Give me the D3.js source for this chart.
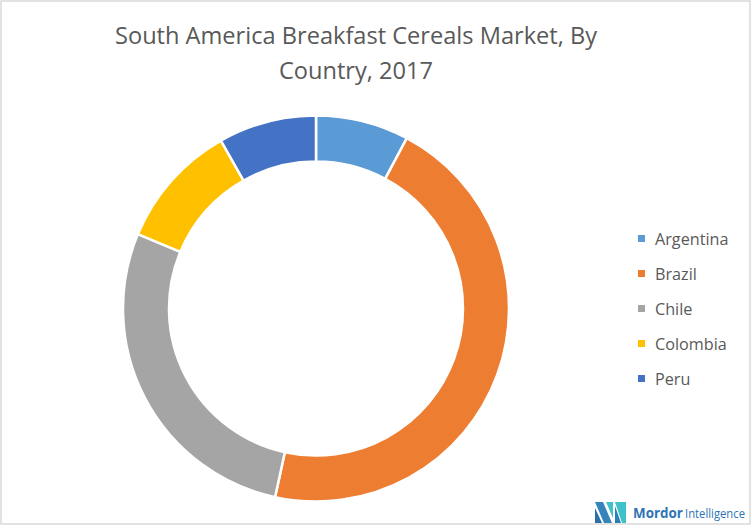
<!DOCTYPE html>
<html><head><meta charset="utf-8">
<script src="https://cdn.jsdelivr.net/npm/d3@7"></script>
<style>body{margin:0;background:#fff}svg{display:block}</style>
</head><body>
<svg id="c" width="752" height="528"></svg>
<script>
const categories = ["Argentina","Brazil","Chile","Colombia","Peru"];
const values = [7.8, 45.6, 27.9, 10.5, 8.2];
const colors = ["#5B9BD5","#ED7D31","#A5A5A5","#FFC000","#4472C4"];
const titleLines = ["South America Breakfast Cereals Market, By","Country, 2017"];

const svg = d3.select("#c");
svg.append("rect").attr("x",1).attr("y",1).attr("width",749).attr("height",523)
  .attr("fill","#fff").attr("stroke","#d9d9d9").attr("stroke-width",1.5);

const font = "'Open Sans', 'Noto Sans', sans-serif";
svg.append("g").selectAll("text").data(titleLines).join("text")
  .attr("x",356).attr("y",(d,i)=>44+i*35).attr("text-anchor","middle")
  .attr("font-family",font).attr("font-size",23.6).attr("fill","#595959").text(d=>d);

const cx = 316, cy = 308.5, R = 193, r = 147;
const pie = d3.pie().sort(null).value(d=>d);
const arc = d3.arc().innerRadius(r).outerRadius(R);
svg.append("g").attr("transform",`translate(${cx},${cy})`)
  .selectAll("path").data(pie(values)).join("path")
  .attr("d",arc).attr("fill",(d,i)=>colors[i])
  .attr("stroke","#fff").attr("stroke-width",2.5);

const y = d3.scalePoint().domain(categories).range([238.5,378.5]);
const lg = svg.append("g");
lg.selectAll("rect").data(categories).join("rect")
  .attr("x",638).attr("y",d=>y(d)-3.5).attr("width",7).attr("height",7)
  .attr("fill",(d,i)=>colors[i]);
lg.selectAll("text").data(categories).join("text")
  .attr("x",655).attr("y",d=>y(d)+6)
  .attr("font-family",font).attr("font-size",16.2).attr("fill","#595959").text(d=>d);

// logo
const logo = svg.append("g");
logo.append("path").attr("d","M595,502 L603,502 L612,523 L604,523 Z").attr("fill","#1F77B4").attr("opacity",0.9);
logo.append("path").attr("d","M595,508 L602,523 L595,523 Z").attr("fill","#2A6FA8");
logo.append("path").attr("d","M606,502 L613,502 L613,518 Z").attr("fill","#3FC1C9");
logo.append("path").attr("d","M615,502 L626,502 L626,523 L622,523 Z").attr("fill","#3FC1C9");
logo.append("path").attr("d","M615,506 L621,523 L615,523 Z").attr("fill","#2A7FB8");
function fitText(x, txt, target, bold){
  const t = logo.append("text").attr("font-family","'Open Sans', sans-serif")
    .attr("font-size",13.5).attr("fill","#2E74B5").attr("font-weight",bold?"bold":"normal").text(txt);
  const w = t.node().getComputedTextLength();
  const fs = 13.5*target/w;
  t.attr("font-size",fs).attr("transform",`translate(${x},517.5) scale(1,${13.5/fs})`);
}
fitText(633,"Mordor",50,true);
fitText(685,"Intelligence",60,false);
</script>
</body></html>
